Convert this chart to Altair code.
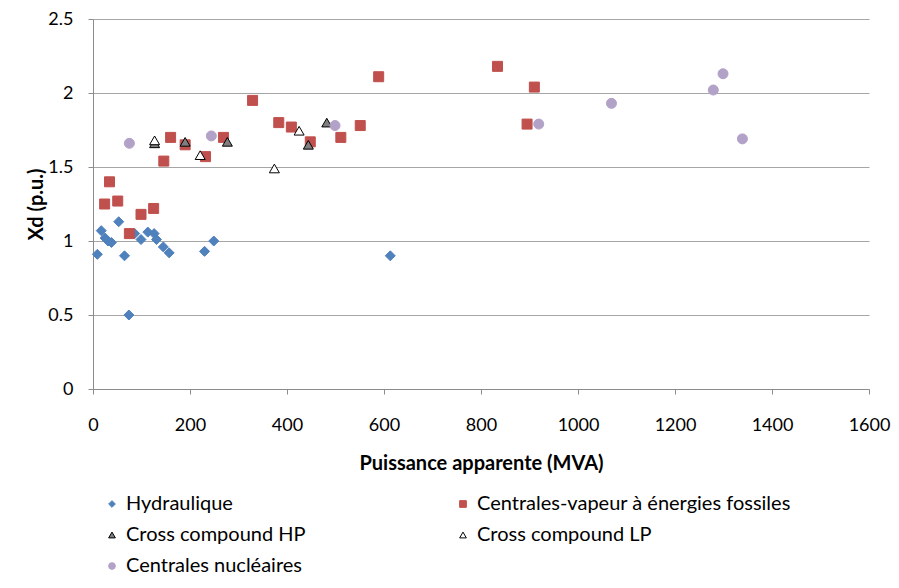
import altair as alt
import pandas as pd

series_names = ["Hydraulique", "Centrales-vapeur à énergies fossiles",
                "Cross compound HP", "Cross compound LP", "Centrales nucléaires"]
# legend entry order (vega fills legend columns top to bottom)
legend_order = ["Hydraulique", "Cross compound HP", "Centrales nucléaires",
                "Centrales-vapeur à énergies fossiles", "Cross compound LP"]

hydro_mva = [9, 17, 25, 31, 38, 53, 65, 74, 86, 99, 113, 126, 131, 145, 157, 230, 249, 613]
hydro_xd = [0.91, 1.07, 1.02, 1.00, 0.99, 1.13, 0.90, 0.50, 1.05, 1.01, 1.06, 1.05, 1.01, 0.96, 0.92, 0.93, 1.00, 0.90]

fossil_mva = [24, 34, 51, 75, 99, 125, 146, 160, 190, 232, 269, 329, 383, 409, 448, 511, 551, 589, 834, 895, 910]
fossil_xd = [1.25, 1.40, 1.27, 1.05, 1.18, 1.22, 1.54, 1.70, 1.65, 1.57, 1.70, 1.95, 1.80, 1.77, 1.67, 1.70, 1.78, 2.11, 2.18, 1.79, 2.04]

hp_mva = [127, 190, 277, 444, 482]
hp_xd = [1.66, 1.67, 1.67, 1.65, 1.80]

lp_mva = [127, 221, 374, 425]
lp_xd = [1.68, 1.58, 1.49, 1.745]

nuc_mva = [75, 244, 499, 919, 1069, 1279, 1299, 1339]
nuc_xd = [1.66, 1.71, 1.78, 1.79, 1.93, 2.02, 2.13, 1.69]

rows = []
for i, (name, xs, ys) in enumerate(zip(series_names,
                        [hydro_mva, fossil_mva, hp_mva, lp_mva, nuc_mva],
                        [hydro_xd, fossil_xd, hp_xd, lp_xd, nuc_xd])):
    for a, b in zip(xs, ys):
        rows.append({"Série": name, "MVA": a, "Xd": b, "idx": i})
df = pd.DataFrame(rows)

style = {
    "Hydraulique": ("#4F81BD", "#4F81BD", "diamond"),
    "Centrales-vapeur à énergies fossiles": ("#C0504D", "#C0504D", "square"),
    "Cross compound HP": ("#7F7F7F", "#000000", "triangle-up"),
    "Cross compound LP": ("#FFFFFF", "#000000", "triangle-up"),
    "Centrales nucléaires": ("#B3A2C7", "#B3A2C7", "circle"),
}
fills = [style[n][0] for n in legend_order]
strokes = [style[n][1] for n in legend_order]
shapes = [style[n][2] for n in legend_order]

FONT = "Lato"

legend = alt.Legend(
    title=None, orient="none", legendX=9, legendY=475,
    columns=2, columnPadding=147, rowPadding=11, labelLimit=500,
    labelFont=FONT, labelFontSize=20, labelColor="#000000",
    symbolSize=45, symbolStrokeWidth=1, labelOffset=4,
)

chart = alt.Chart(df).mark_point(filled=True, opacity=1, size=100, strokeWidth=1).encode(
    x=alt.X("MVA:Q", scale=alt.Scale(domain=[0, 1600], nice=False),
            axis=alt.Axis(title="Puissance apparente (MVA)", values=list(range(0, 1601, 200)),
                          format="d", grid=False, tickSize=5, labelPadding=22,
                          labelFlush=False, titlePadding=19)),
    y=alt.Y("Xd:Q", scale=alt.Scale(domain=[0, 2.5], nice=False),
            axis=alt.Axis(title="Xd (p.u.)", values=[0, 0.5, 1, 1.5, 2, 2.5],
                          format="~g", grid=True, tickSize=5, labelPadding=15,
                          labelFlush=False, titlePadding=1)),
    fill=alt.Fill("Série:N", scale=alt.Scale(domain=legend_order, range=fills), legend=legend),
    stroke=alt.Stroke("Série:N", scale=alt.Scale(domain=legend_order, range=strokes), legend=legend),
    shape=alt.Shape("Série:N", scale=alt.Scale(domain=legend_order, range=shapes), legend=legend),
    order=alt.Order("idx:Q"),
).properties(
    width=776, height=370,
    autosize=alt.AutoSizeParams(type="none"),
    padding={"left": 85, "top": 11, "right": 22, "bottom": 191},
).configure_view(stroke=None).configure_axis(
    labelFont=FONT, labelFontSize=18, labelColor="#000000",
    titleFont=FONT, titleFontSize=20, titleFontWeight="bold", titleColor="#000000",
    domainColor="#8C8C8C", tickColor="#8C8C8C", gridColor="#A6A6A6",
)

chart.save("out.html", embed_options={"renderer": "svg", "actions": False})
